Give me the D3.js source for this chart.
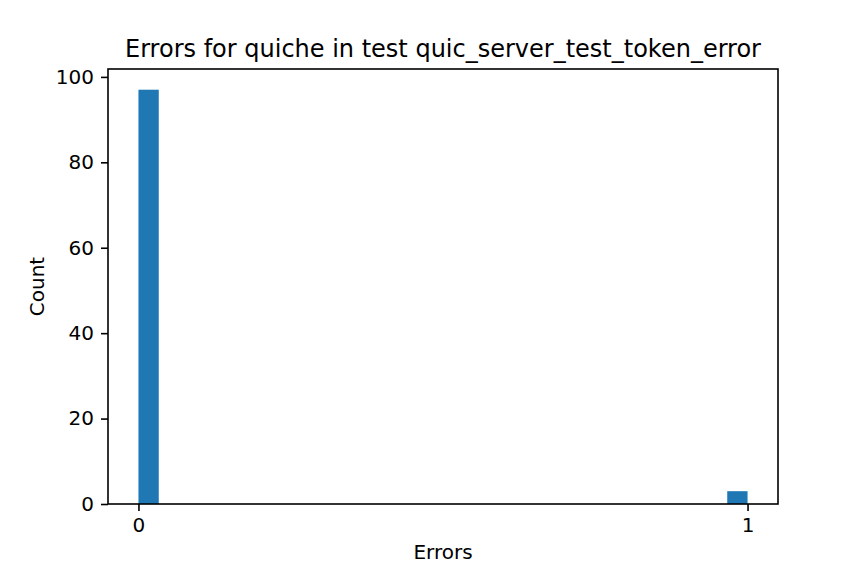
<!DOCTYPE html>
<html>
<head>
<meta charset="utf-8">
<script src="https://cdn.jsdelivr.net/npm/d3@7"></script>
<style>
  body { margin: 0; background: #fff; }
  text { font-family: "DejaVu Sans", sans-serif; fill: #000; }
</style>
</head>
<body>
<svg id="chart" width="864" height="576"></svg>
<script>
// histogram bins: 30 equal bins between 0 and 1
const binStarts = d3.range(30).map(i => i / 30);
const binCounts = [97, 0, 0, 0, 0, 0, 0, 0, 0, 0, 0, 0, 0, 0, 0,
                   0, 0, 0, 0, 0, 0, 0, 0, 0, 0, 0, 0, 0, 0, 3];
const xTicks = [0, 1];
const yTicks = [0, 20, 40, 60, 80, 100];
const binWidth = 1 / 30;

const svg = d3.select('#chart');
const plot = { left: 108, right: 778, top: 69, bottom: 504 };

// matplotlib-style 5% margins
const x = d3.scaleLinear().domain([-0.05, 1.05]).range([plot.left, plot.right]);
const y = d3.scaleLinear().domain([0, 97 * 1.05]).range([plot.bottom, plot.top]);

const bins = binStarts.map((s, i) => ({ start: s, count: binCounts[i] }));

svg.append('g')
    .selectAll('rect')
    .data(bins.filter(d => d.count > 0))
    .enter()
    .append('rect')
    .attr('x', d => x(d.start))
    .attr('width', d => x(d.start + binWidth) - x(d.start))
    .attr('y', d => y(d.count))
    .attr('height', d => y(0) - y(d.count))
    .attr('fill', '#1f77b4');

const xAxis = svg.append('g')
    .attr('transform', `translate(0,${plot.bottom})`)
    .call(d3.axisBottom(x).tickValues(xTicks).tickFormat(d3.format('d')).tickSizeOuter(0).tickSize(7).tickPadding(7));
const yAxis = svg.append('g')
    .attr('transform', `translate(${plot.left},0)`)
    .call(d3.axisLeft(y).tickValues(yTicks).tickSizeOuter(0).tickSize(7).tickPadding(7));

[xAxis, yAxis].forEach(a => {
    a.select('.domain').remove();
    a.selectAll('line').attr('stroke', '#000').attr('stroke-width', 1.6);
    a.selectAll('text').style('font-size', '20px').style('font-family', '"DejaVu Sans", sans-serif').attr('fill', '#000');
});

// frame
svg.append('rect')
    .attr('x', plot.left).attr('y', plot.top)
    .attr('width', plot.right - plot.left).attr('height', plot.bottom - plot.top)
    .attr('fill', 'none').attr('stroke', '#000').attr('stroke-width', 1.6);

svg.append('text')
    .attr('x', (plot.left + plot.right) / 2).attr('y', 57)
    .attr('text-anchor', 'middle')
    .style('font-size', '24px')
    .text('Errors for quiche in test quic_server_test_token_error');

svg.append('text')
    .attr('x', (plot.left + plot.right) / 2).attr('y', 559)
    .attr('text-anchor', 'middle')
    .style('font-size', '20px')
    .text('Errors');

svg.append('text')
    .attr('transform', `translate(44,${(plot.top + plot.bottom) / 2}) rotate(-90)`)
    .attr('text-anchor', 'middle')
    .style('font-size', '20px')
    .text('Count');
</script>
</body>
</html>
